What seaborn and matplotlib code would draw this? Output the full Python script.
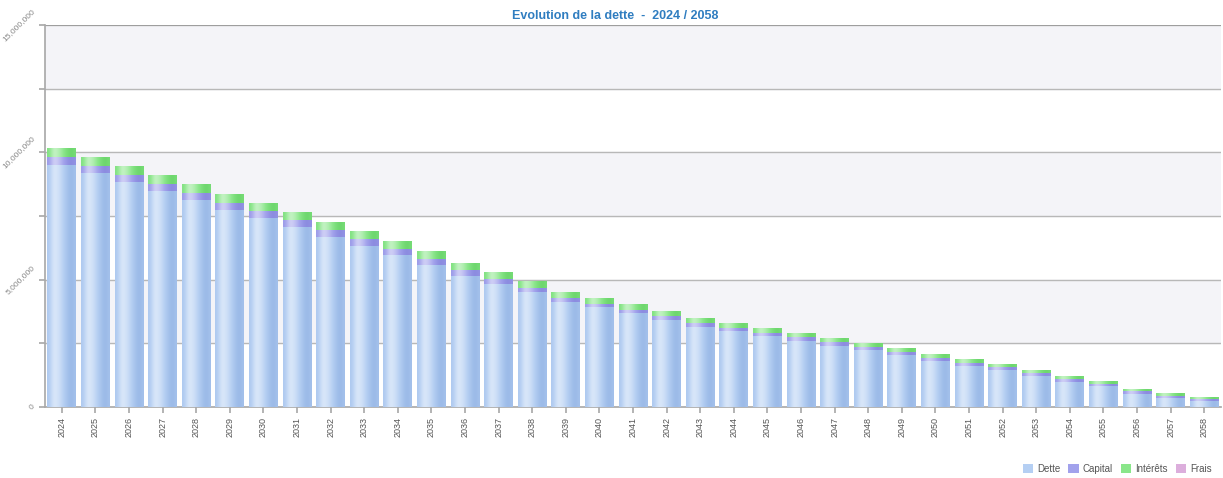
import numpy as np
import pandas as pd
import matplotlib
matplotlib.use("Agg")
import matplotlib.pyplot as plt
import seaborn as sns
from matplotlib.patches import Patch
from matplotlib.ticker import FixedLocator, FuncFormatter

years = [str(y) for y in range(2024, 2059)]
dette = [9.51, 9.17, 8.82, 8.48, 8.14, 7.75, 7.41, 7.07, 6.68, 6.34, 5.97, 5.59,
         5.15, 4.83, 4.51, 4.13, 3.91, 3.68, 3.42, 3.15, 2.97, 2.79, 2.61, 2.41,
         2.22, 2.05, 1.81, 1.62, 1.45, 1.21, 1.00, 0.81, 0.52, 0.36, 0.22]
capital = [0.30, 0.30, 0.29, 0.29, 0.28, 0.28, 0.27, 0.27, 0.26, 0.26, 0.25, 0.24,
           0.22, 0.20, 0.18, 0.15, 0.14, 0.14, 0.14, 0.14, 0.14, 0.13, 0.13, 0.13,
           0.13, 0.12, 0.12, 0.12, 0.11, 0.11, 0.10, 0.10, 0.09, 0.09, 0.08]
interets = [0.36, 0.35, 0.35, 0.34, 0.34, 0.33, 0.33, 0.32, 0.32, 0.31, 0.30, 0.29,
            0.28, 0.27, 0.26, 0.24, 0.23, 0.22, 0.21, 0.20, 0.19, 0.18, 0.17, 0.17,
            0.16, 0.15, 0.15, 0.14, 0.13, 0.13, 0.12, 0.11, 0.10, 0.10, 0.09]
frais = [0.0] * 35

series_names = ["Dette", "Capital", "Intérêts", "Frais"]
series_colors = ["#b5cff3", "#a2a2ec", "#8ae68a", "#dcaedc"]
grad_dark = ["#8fb0e2", "#8080da", "#5fcf5f", "#c58ec5"]

df = pd.DataFrame({"annee": years,
                   "Dette": np.array(dette) * 1e6,
                   "Capital": np.array(capital) * 1e6,
                   "Intérêts": np.array(interets) * 1e6,
                   "Frais": np.array(frais) * 1e6})
cum = df[series_names].cumsum(axis=1)

sns.set_theme(style="white")
plt.rcParams['font.family'] = ['Liberation Sans', 'DejaVu Sans']

fig = plt.figure(figsize=(12.23, 4.78), dpi=100)
ax = fig.add_axes([45 / 1223, 1 - 407 / 478, (1221 - 45) / 1223, (407 - 25) / 478])

# background bands
for lo in [2.5e6, 7.5e6, 12.5e6]:
    ax.axhspan(lo, lo + 2.5e6, color="#f4f4f8", zorder=0)
for yv in np.arange(2.5e6, 15.1e6, 2.5e6):
    ax.axhline(yv, color="#b8b8b8", lw=1.0, zorder=0.5)

# stacked bars (drawn tallest first)
order = list(range(len(series_names)))[::-1]
bar_groups = []
for i in order:
    name = series_names[i]
    before = len(ax.patches)
    sns.barplot(x=df["annee"], y=cum[name], color=series_colors[i], ax=ax,
                width=0.86, saturation=1, linewidth=0, zorder=2)
    bar_groups.append((i, list(ax.patches)[before:]))

# cylinder-like gradient inside each bar
grad = np.array([0.55, 0.8, 1.0, 0.95, 0.85, 0.7, 0.5, 0.3, 0.2, 0.35])[None, :]
for si, group in bar_groups:
    cmap = matplotlib.colors.LinearSegmentedColormap.from_list(
        "g", [grad_dark[si], series_colors[si], "#ffffff"])
    for p in group:
        if p.get_height() <= 0:
            continue
        x0, w = p.get_x(), p.get_width()
        y0, h = p.get_y(), p.get_height()
        im = ax.imshow(grad * 0.75, extent=[x0, x0 + w, y0, y0 + h], aspect="auto",
                       cmap=cmap, vmin=0, vmax=1, zorder=2.5 + (3 - si) * 0.01,
                       interpolation="bicubic")
        im.set_clip_path(p)

n = len(years)
ax.set_xlim(-0.5, n - 0.5)
ax.set_ylim(0, 15e6)
ax.set_xlabel("")
ax.set_ylabel("")

ax.yaxis.set_major_locator(FixedLocator(np.arange(0, 15.1e6, 2.5e6)))
ax.yaxis.set_major_formatter(FuncFormatter(
    lambda v, pos: f"{int(v):,}" if v % 5e6 == 0 else ""))
ax.tick_params(axis="y", labelsize=6, labelcolor="#888888", rotation=45,
               length=4, color="#aaaaaa", left=True, pad=2)
ax.tick_params(axis="x", labelsize=6.5, labelcolor="#555555", rotation=90,
               length=4, color="#aaaaaa", bottom=True, pad=3)
for lab in ax.get_yticklabels():
    lab.set_ha("right")
    lab.set_va("center")

for s in ["top", "right"]:
    ax.spines[s].set_visible(False)
ax.spines["left"].set_color("#aaaaaa")
ax.spines["bottom"].set_color("#aaaaaa")
ax.axhline(15e6, color="#999999", lw=1.2, zorder=1)

fig.text(0.503, 0.967, "Evolution de la dette  -  2024 / 2058", ha="center",
         va="center", fontsize=9, fontweight="bold", color="#2f7dc0")

handles = [Patch(facecolor=c, edgecolor="none") for c in series_colors]
fig.legend(handles, series_names, loc="lower right", ncol=4, frameon=False,
           fontsize=7, bbox_to_anchor=(0.998, -0.01), handlelength=1.1,
           handleheight=1.1, columnspacing=0.8, handletextpad=0.4,
           labelcolor="#555555")

fig.savefig("out.png", dpi=100)
